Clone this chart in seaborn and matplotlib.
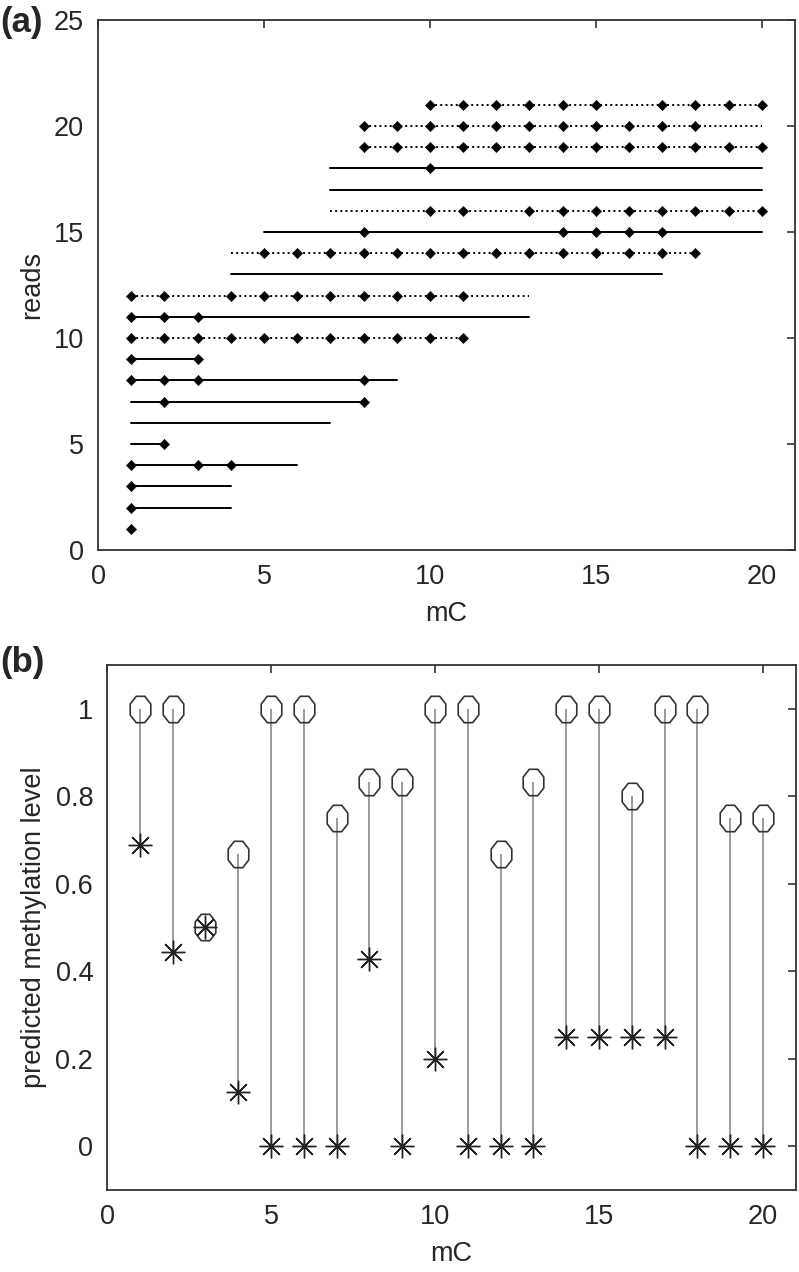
import numpy as np
import pandas as pd
import seaborn as sns
import matplotlib.pyplot as plt
from matplotlib.path import Path

# panel (a): one row per read
reads = list(range(1, 22))
read_start = [1, 1, 1, 1, 1, 1, 1, 1, 1, 1, 1, 1, 4, 4, 5, 7, 7, 7, 8, 8, 10]
read_end = [1, 4, 4, 6, 2, 7, 8, 9, 3, 11, 13, 13, 17, 18, 20, 20, 20, 20, 20, 20, 20]
dotted_reads = [10, 12, 14, 16, 19, 20, 21]
read_marks = [
    [1], [1], [1], [1, 3, 4], [2], [], [2, 8], [1, 2, 3, 8], [1, 3],
    list(range(1, 12)), [1, 2, 3], [1, 2, 4, 5, 6, 7, 8, 9, 10, 11], [],
    list(range(5, 19)), [8, 14, 15, 16, 17],
    [10, 11, 13, 14, 15, 16, 17, 18, 19, 20], [], [10],
    list(range(8, 21)), list(range(8, 19)),
    [10, 11, 12, 13, 14, 15, 17, 18, 19, 20],
]

# panel (b)
mc = list(range(1, 21))
level_top = [1, 1, 0.5, 0.667, 1, 1, 0.75, 0.833, 0.833, 1, 1, 0.667, 0.833,
             1, 1, 0.8, 1, 1, 0.75, 0.75]
level_bottom = [0.6875, 0.444, 0.5, 0.125, 0, 0, 0, 0.429, 0, 0.2, 0, 0, 0,
                0.25, 0.25, 0.25, 0.25, 0, 0, 0]

sns.set_style("white")
plt.rcParams['font.family'] = ['Liberation Sans', 'DejaVu Sans']

fig = plt.figure(figsize=(7.99, 12.72), dpi=100)
ax1 = fig.add_axes([0.1227, 0.5676, 0.8723, 0.4167])
ax2 = fig.add_axes([0.134, 0.0645, 0.862, 0.4127])

# --- (a)
for r, s, e in zip(reads, read_start, read_end):
    ls = ':' if r in dotted_reads else '-'
    ax1.plot([s, e], [r, r], color='black', ls=ls, lw=1.4)

pts = pd.DataFrame([(x, r) for r, m in zip(reads, read_marks) for x in m],
                   columns=['mC', 'reads'])
sns.scatterplot(data=pts, x='mC', y='reads', ax=ax1, marker='D', s=28,
                color='black', edgecolor='black', linewidth=0.3, zorder=3)
ax1.set_xlim(0, 21)
ax1.set_ylim(0, 25)
ax1.set_xticks([0, 5, 10, 15, 20])
ax1.set_yticks([0, 5, 10, 15, 20, 25])

# --- (b)
ax2.vlines(mc, level_bottom, level_top, color='#8a8a8a', lw=1.2, zorder=1)
oct_ang = np.deg2rad(np.arange(8) * 45 + 22.5)
oct_verts = np.column_stack([0.78 * np.cos(oct_ang), np.sin(oct_ang)])
oct_verts = np.vstack([oct_verts, oct_verts[:1]])
octagon = Path(oct_verts, closed=True)
ax2.plot(mc, level_top, ls='none', marker=octagon, ms=19, mfc='none',
         mec='#333333', mew=1.2, zorder=3)
ax2.plot(mc, level_bottom, ls='none', marker=(8, 2, 0), ms=17,
         color='#222222', mew=1.0, zorder=3)
ax2.set_xlim(0, 21)
ax2.set_ylim(-0.1, 1.1)
ax2.set_xticks([0, 5, 10, 15, 20])
ax2.set_yticks([0, 0.2, 0.4, 0.6, 0.8, 1])
ax2.set_yticklabels(['0', '0.2', '0.4', '0.6', '0.8', '1'])

for ax in (ax1, ax2):
    for sp in ax.spines.values():
        sp.set_color('#333333')
        sp.set_linewidth(1.3)
    ax.tick_params(direction='in', length=6, width=1.2, color='#333333',
                   top=True, right=True, labelsize=19.5, pad=10)
    ax.set_xlabel('mC', fontsize=19.5, labelpad=8)

ax1.set_ylabel('reads', fontsize=19.5, labelpad=6)
ax2.set_ylabel('predicted methylation level', fontsize=19.5, labelpad=6)

fig.text(0.0, 0.995, '(a)', fontsize=25, fontweight='bold', va='top', ha='left')
fig.text(0.0, 0.492, '(b)', fontsize=25, fontweight='bold', va='top', ha='left')

fig.savefig('out.png', dpi=100)
